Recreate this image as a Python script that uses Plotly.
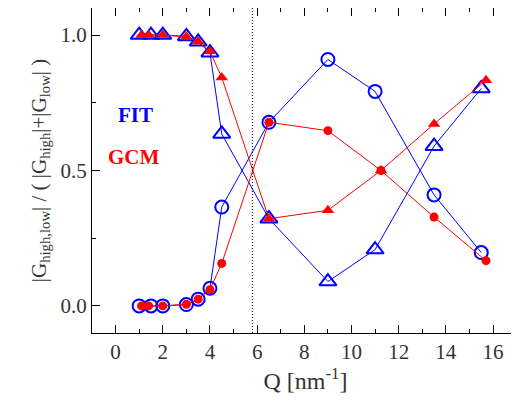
import plotly.graph_objects as go

# FIT (blue, open markers)
fit_q = [1.0, 1.5, 2.0, 3.0, 3.5, 4.0, 4.5, 6.5, 9.0, 11.0, 13.5, 15.5]
fit_low = [0.0, 0.0, 0.0, 0.005, 0.025, 0.065, 0.365, 0.678, 0.91, 0.792, 0.41, 0.197]
fit_high = [1.0, 1.0, 1.0, 0.995, 0.975, 0.935, 0.635, 0.322, 0.09, 0.208, 0.59, 0.803]

# GCM (red, filled markers)
gcm_q = [1.1, 1.4, 2.0, 3.0, 3.5, 4.0, 4.5, 6.5, 9.0, 11.25, 13.5, 15.7]
gcm_low = [0.0, 0.0, 0.0, 0.006, 0.025, 0.06, 0.157, 0.678, 0.647, 0.5, 0.328, 0.167]
gcm_high = [1.0, 1.0, 1.0, 0.994, 0.975, 0.94, 0.843, 0.322, 0.353, 0.5, 0.672, 0.833]

q_marker_line = 5.8

font_family = "Liberation Serif"

fig = go.Figure()

fig.add_trace(go.Scatter(x=fit_q, y=fit_low, mode="lines+markers",
                         line=dict(color="blue", width=1),
                         marker=dict(symbol="circle-open", size=13, color="blue", line=dict(width=2)),
                         showlegend=False))
fig.add_trace(go.Scatter(x=fit_q, y=fit_high, mode="lines+markers",
                         line=dict(color="blue", width=1),
                         marker=dict(symbol="triangle-up-open", size=15, color="blue", line=dict(width=2)),
                         showlegend=False))
fig.add_trace(go.Scatter(x=gcm_q, y=gcm_low, mode="lines+markers",
                         line=dict(color="red", width=1),
                         marker=dict(symbol="circle", size=9, color="red"),
                         showlegend=False))
fig.add_trace(go.Scatter(x=gcm_q, y=gcm_high, mode="lines+markers",
                         line=dict(color="red", width=1),
                         marker=dict(symbol="triangle-up", size=11, color="red"),
                         showlegend=False))

fig.add_shape(type="line", x0=q_marker_line, x1=q_marker_line, y0=0, y1=1,
              xref="x", yref="paper", line=dict(color="black", width=1, dash="1px,2px"))

fig.add_annotation(x=0.84, y=0.705, xref="x", yref="y", text="<b>FIT</b>", showarrow=False,
                   font=dict(family=font_family, size=21, color="blue"))
fig.add_annotation(x=0.78, y=0.55, xref="x", yref="y", text="<b>GCM</b>", showarrow=False,
                   font=dict(family=font_family, size=21, color="red"))

axis_common = dict(showline=True, linecolor="black", linewidth=1, mirror="ticks",
                   ticks="inside", ticklen=8, tickcolor="black", tickwidth=1,
                   showgrid=False, zeroline=False, automargin=False,
                   tickfont=dict(family=font_family, size=21, color="#333"))

fig.update_xaxes(range=[-1, 17.1], tickvals=[0, 2, 4, 6, 8, 10, 12, 14, 16],
                 minor=dict(tickvals=[-1, 1, 3, 5, 7, 9, 11, 13, 15, 17], ticks="inside", ticklen=4,
                            tickcolor="black", showgrid=False),
                 title=dict(text="Q [nm<sup>-1</sup>]", font=dict(family=font_family, size=24, color="#333"),
                            standoff=8),
                 **axis_common)
fig.update_yaxes(range=[-0.1, 1.1], tickvals=[0.0, 0.5, 1.0], ticktext=["0.0", "0.5", "1.0"],
                 minor=dict(tickvals=[0.25, 0.75], ticks="inside", ticklen=4,
                            tickcolor="black", showgrid=False),
                 title=dict(text="|G<sub>high,low</sub>| / ( |G<sub>high</sub>|+|G<sub>low</sub>| )",
                            font=dict(family=font_family, size=21, color="#333"), standoff=8),
                 **axis_common)

# The page body has an 8px margin; size the figure so it fits the 519x413 window.
fig.update_layout(width=511, height=405, margin=dict(l=84, r=0, t=0, b=80),
                  plot_bgcolor="white", paper_bgcolor="white")

fig.write_html("out.html")
